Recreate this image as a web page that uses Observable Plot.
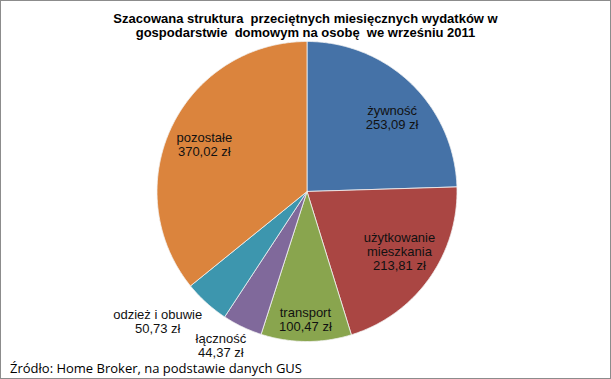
<!DOCTYPE html>
<html><head><meta charset="utf-8">
<script src="https://cdn.jsdelivr.net/npm/d3@7"></script>
<script src="https://cdn.jsdelivr.net/npm/@observablehq/plot@0.6"></script>
<style>
html,body{margin:0;padding:0;background:#fff;}
#chart{position:relative;width:611px;height:379px;box-sizing:border-box;border:1px solid #8c8c8c;overflow:hidden;background:#fff;}
#title{height:43px;box-sizing:border-box;padding-top:11px;width:609px;text-align:center;font:bold 13px "Liberation Sans",Arial,sans-serif;line-height:14px;color:#000;white-space:pre;}
#plot svg{display:block;overflow:visible;}
#source{position:absolute;left:9px;top:360px;font:13px "Open Sans",sans-serif;line-height:15px;color:#000;white-space:nowrap;}
</style></head><body>
<div id="chart">
<div id="title">Szacowana struktura  przeciętnych miesięcznych wydatków w
gospodarstwie  domowym na osobę  we wrześniu 2011</div>
<div id="plot"></div>
<div id="source">Źródło: Home Broker, na podstawie danych GUS</div>
</div>
<script>
// Data
const categories = ["żywność", "użytkowanie mieszkania", "transport", "łączność", "odzież i obuwie", "pozostałe"];
const labelText = ["żywność", "użytkowanie\nmieszkania", "transport", "łączność", "odzież i obuwie", "pozostałe"];
const values = [253.09, 213.81, 100.47, 44.37, 50.73, 370.02];
const unit = "zł";

// Styles / layout (not data)
const colors = ["#4572A7", "#AA4643", "#89A54E", "#80699B", "#3D96AE", "#DB843D"];
const labelRadius = [0.75, 0.735, 0.853, 1.175, 1.32, 0.753];
const labelShiftDeg = [5, -2.5, 0.4, 3.7, 6.8, -0.9];
const cx = 305.5, cy = 147, R = 150;

const total = d3.sum(values);
let cum = 0;
const slices = values.map((v, i) => {
  const a0 = cum / total * 2 * Math.PI;
  cum += v;
  const a1 = cum / total * 2 * Math.PI;
  return {i, name: categories[i], value: v, a0, a1};
});

const marks = [];
slices.forEach(s => {
  const pts = [{x: 0, y: 0}];
  const n = Math.max(2, Math.ceil((s.a1 - s.a0) / (Math.PI / 360)));
  for (let k = 0; k <= n; k++) {
    const a = s.a0 + (s.a1 - s.a0) * k / n;
    pts.push({x: Math.sin(a), y: Math.cos(a)});
  }
  pts.push({x: 0, y: 0});
  marks.push(Plot.line(pts, {x: "x", y: "y", fill: colors[s.i], stroke: "#f2f2f2", strokeWidth: 0.8, strokeLinejoin: "round"}));
});

const labels = slices.map(s => {
  const a = (s.a0 + s.a1) / 2 + labelShiftDeg[s.i] * Math.PI / 180;
  const r = labelRadius[s.i];
  return {x: r * Math.sin(a), y: r * Math.cos(a),
          text: labelText[s.i] + "\n" + s.value.toFixed(2).replace(".", ",") + " " + unit};
});
marks.push(Plot.text(labels, {x: "x", y: "y", text: "text", fontSize: 13, lineHeight: 1.08, fill: "#111",
  fontFamily: "'Liberation Sans', Arial, sans-serif"}));

const chart = Plot.plot({
  width: 609, height: 322, margin: 0,
  x: {domain: [-1, 1], range: [cx - R, cx + R], axis: null},
  y: {domain: [-1, 1], range: [cy + R, cy - R], axis: null},
  marks
});
document.getElementById("plot").appendChild(chart);
</script>
</body></html>
